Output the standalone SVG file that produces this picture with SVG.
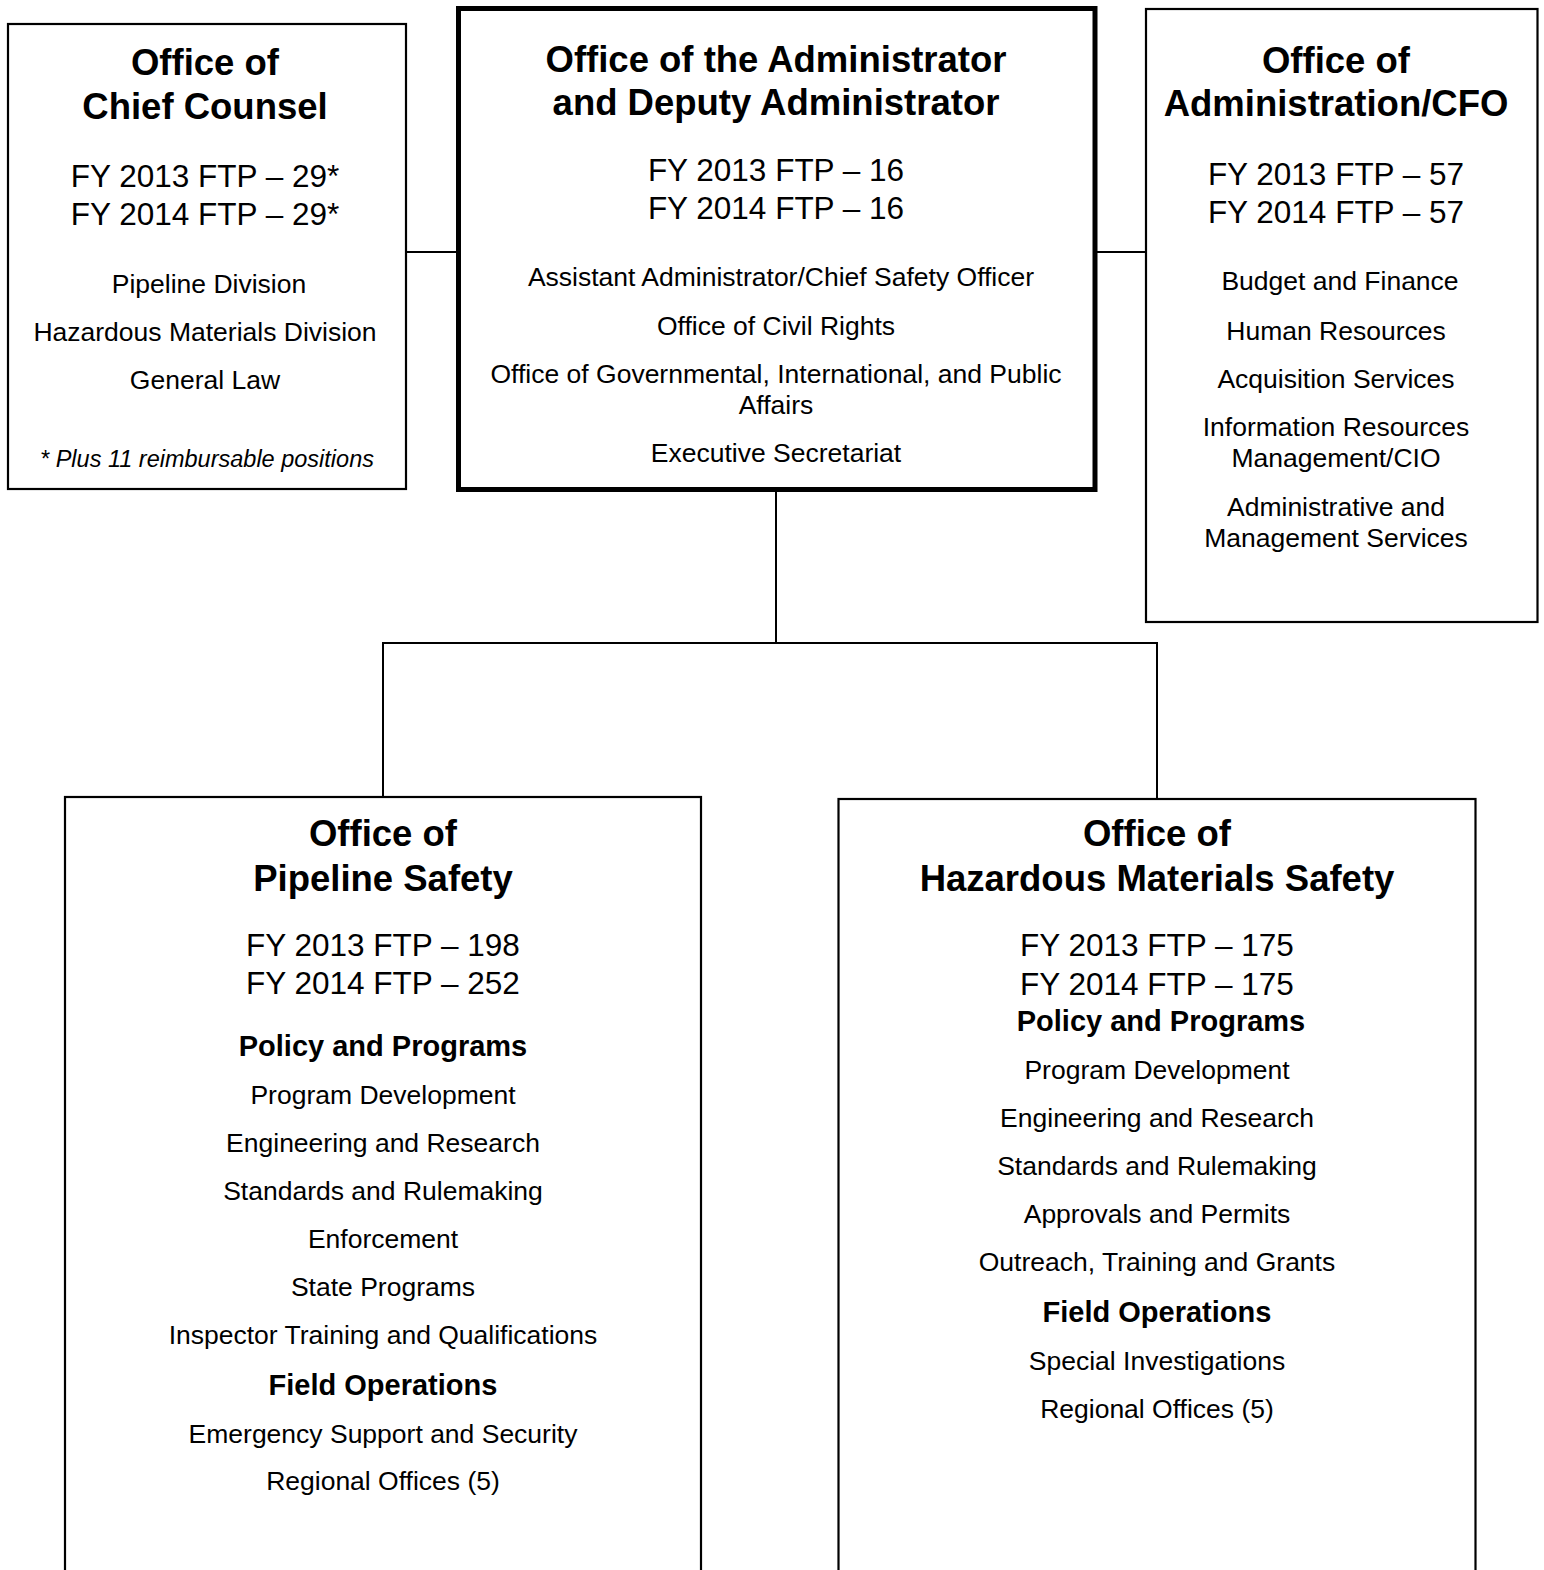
<svg xmlns="http://www.w3.org/2000/svg" width="1544" height="1570" viewBox="0 0 1544 1570">
<style>
text{font-family:"Liberation Sans",Arial,sans-serif;fill:#000;text-anchor:middle}
.t{font-size:36.5px;font-weight:bold}
.f{font-size:31.5px}
.i{font-size:26.5px}
.h{font-size:29px;font-weight:bold}
.n{font-size:23.5px;font-style:italic}
.box{fill:#fff;stroke:#000;stroke-width:2.2}
.main{fill:#fff;stroke:#000;stroke-width:5}
.c{stroke:#000;stroke-width:2;fill:none}
</style>
<rect width="1544" height="1570" fill="#fff"/>
<g id="connectors">
<line class="c" x1="406" y1="252" x2="458" y2="252"/>
<line class="c" x1="1095" y1="252" x2="1146" y2="252"/>
<polyline class="c" points="383,797 383,643 1157,643 1157,799"/>
<line class="c" x1="776" y1="491" x2="776" y2="643"/>
</g>
<g id="chief-counsel">
<rect class="box" x="8" y="24" width="398" height="465"/>
<text class="t" x="205" y="75">Office of</text>
<text class="t" x="205" y="119">Chief Counsel</text>
<text class="f" x="205" y="187">FY 2013 FTP – 29*</text>
<text class="f" x="205" y="225">FY 2014 FTP – 29*</text>
<text class="i" x="209" y="293">Pipeline Division</text>
<text class="i" x="205" y="341">Hazardous Materials Division</text>
<text class="i" x="205" y="389">General Law</text>
<text class="n" x="207" y="467">* Plus 11 reimbursable positions</text>
</g>
<g id="administrator">
<rect class="main" x="458.5" y="8.5" width="636.5" height="481"/>
<text class="t" x="776" y="72">Office of the Administrator</text>
<text class="t" x="776" y="115">and Deputy Administrator</text>
<text class="f" x="776" y="181">FY 2013 FTP – 16</text>
<text class="f" x="776" y="219">FY 2014 FTP – 16</text>
<text class="i" x="781" y="286">Assistant Administrator/Chief Safety Officer</text>
<text class="i" x="776" y="335">Office of Civil Rights</text>
<text class="i" x="776" y="383">Office of Governmental, International, and Public</text>
<text class="i" x="776" y="414">Affairs</text>
<text class="i" x="776" y="462">Executive Secretariat</text>
</g>
<g id="administration-cfo">
<rect class="box" x="1146" y="9" width="391.5" height="613"/>
<text class="t" x="1336" y="73">Office of</text>
<text class="t" x="1336" y="116">Administration/CFO</text>
<text class="f" x="1336" y="185">FY 2013 FTP – 57</text>
<text class="f" x="1336" y="223">FY 2014 FTP – 57</text>
<text class="i" x="1340" y="290">Budget and Finance</text>
<text class="i" x="1336" y="340">Human Resources</text>
<text class="i" x="1336" y="388">Acquisition Services</text>
<text class="i" x="1336" y="436">Information Resources</text>
<text class="i" x="1336" y="467">Management/CIO</text>
<text class="i" x="1336" y="516">Administrative and</text>
<text class="i" x="1336" y="547">Management Services</text>
</g>
<g id="pipeline-safety">
<rect class="box" x="65" y="797" width="636" height="800"/>
<text class="t" x="383" y="846">Office of</text>
<text class="t" x="383" y="891">Pipeline Safety</text>
<text class="f" x="383" y="956">FY 2013 FTP – 198</text>
<text class="f" x="383" y="994">FY 2014 FTP – 252</text>
<text class="h" x="383" y="1056">Policy and Programs</text>
<text class="i" x="383" y="1104">Program Development</text>
<text class="i" x="383" y="1152">Engineering and Research</text>
<text class="i" x="383" y="1200">Standards and Rulemaking</text>
<text class="i" x="383" y="1248">Enforcement</text>
<text class="i" x="383" y="1296">State Programs</text>
<text class="i" x="383" y="1344">Inspector Training and Qualifications</text>
<text class="h" x="383" y="1395">Field Operations</text>
<text class="i" x="383" y="1443">Emergency Support and Security</text>
<text class="i" x="383" y="1490">Regional Offices (5)</text>
</g>
<g id="hazmat-safety">
<rect class="box" x="838.5" y="799" width="637" height="800"/>
<text class="t" x="1157" y="846">Office of</text>
<text class="t" x="1157" y="891">Hazardous Materials Safety</text>
<text class="f" x="1157" y="956">FY 2013 FTP – 175</text>
<text class="f" x="1157" y="995">FY 2014 FTP – 175</text>
<text class="h" x="1161" y="1031">Policy and Programs</text>
<text class="i" x="1157" y="1079">Program Development</text>
<text class="i" x="1157" y="1127">Engineering and Research</text>
<text class="i" x="1157" y="1175">Standards and Rulemaking</text>
<text class="i" x="1157" y="1223">Approvals and Permits</text>
<text class="i" x="1157" y="1271">Outreach, Training and Grants</text>
<text class="h" x="1157" y="1322">Field Operations</text>
<text class="i" x="1157" y="1370">Special Investigations</text>
<text class="i" x="1157" y="1418">Regional Offices (5)</text>
</g>
</svg>
